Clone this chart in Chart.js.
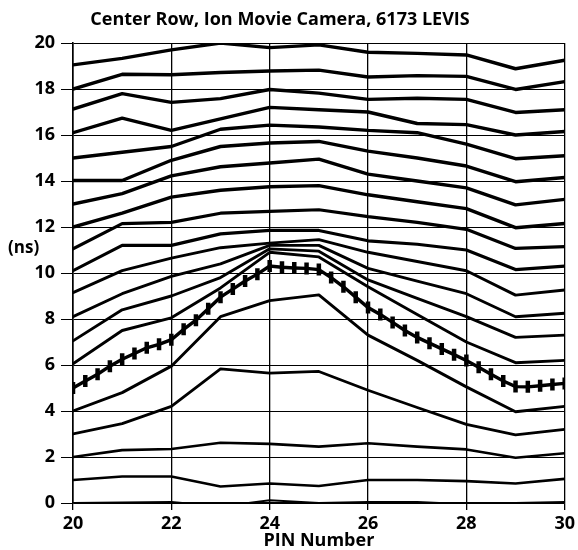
<!DOCTYPE html>
<html><head><meta charset="utf-8">
<script src="https://cdn.jsdelivr.net/npm/chart.js@4/dist/chart.umd.min.js"></script>
<style>html,body{margin:0;padding:0;background:#fff}#wrap{position:relative;width:578px;height:550px;background:#fff}</style>
</head><body><div id="wrap"><canvas id="c" width="578" height="550"></canvas></div>
<script>
const chartTitle = 'Center Row, Ion Movie Camera, 6173 LEVIS';
const yLabel = '(ns)';
const xLabel = 'PIN Number';
const pins = [20, 21, 22, 23, 24, 25, 26, 27, 28, 29, 30];

const line19 = [19.05, 19.33, 19.7, 20.0, 19.8, 19.92, 19.6, 19.55, 19.48, 18.88, 19.25];
const line18 = [18.0, 18.64, 18.62, 18.72, 18.78, 18.82, 18.52, 18.58, 18.55, 17.98, 18.32];
const line17 = [17.13, 17.8, 17.42, 17.58, 17.98, 17.82, 17.55, 17.6, 17.55, 16.98, 17.1];
const line16 = [16.1, 16.73, 16.2, 16.7, 17.2, 17.1, 17.0, 16.5, 16.45, 16.0, 16.15];
const line15 = [15.0, 15.25, 15.5, 16.25, 16.43, 16.35, 16.2, 16.1, 15.6, 14.97, 15.1];
const line14 = [14.02, 14.02, 14.9, 15.5, 15.65, 15.72, 15.3, 15.0, 14.65, 13.97, 14.15];
const line13 = [13.0, 13.45, 14.22, 14.62, 14.78, 14.95, 14.3, 14.0, 13.7, 12.96, 13.2];
const line12 = [12.0, 12.6, 13.3, 13.6, 13.75, 13.8, 13.4, 13.1, 12.8, 11.97, 12.15];
const line11 = [11.05, 12.15, 12.2, 12.6, 12.68, 12.75, 12.45, 12.2, 11.9, 11.07, 11.15];
const line10 = [10.1, 11.2, 11.2, 11.7, 11.85, 11.85, 11.4, 11.25, 11.0, 10.15, 10.3];
const line9  = [9.15, 10.1, 10.65, 11.1, 11.3, 11.45, 10.9, 10.5, 10.1, 9.04, 9.26];
const line8  = [8.1, 9.1, 9.85, 10.4, 11.2, 11.2, 10.2, 9.65, 9.1, 8.1, 8.25];
const line7  = [7.05, 8.4, 9.0, 9.8, 11.05, 10.95, 9.7, 8.9, 8.1, 7.2, 7.3];
const line6  = [6.05, 7.5, 8.05, 9.35, 10.9, 10.7, 9.4, 8.2, 7.0, 6.1, 6.2];
const line4  = [4.0, 4.8, 5.95, 8.1, 8.8, 9.05, 7.3, 6.2, 5.05, 3.97, 4.2];
const line3  = [3.0, 3.45, 4.2, 5.83, 5.65, 5.72, 4.9, 4.15, 3.42, 2.96, 3.2];
const line2  = [2.0, 2.3, 2.35, 2.62, 2.57, 2.45, 2.6, 2.45, 2.33, 1.97, 2.16];
const line1  = [1.0, 1.15, 1.15, 0.72, 0.85, 0.74, 1.0, 1.0, 0.95, 0.85, 1.05];
const line0  = [0.0, 0.03, 0.05, -0.15, 0.12, 0.0, 0.05, 0.05, -0.05, 0.0, 0.05];

const markedPins = [20, 20.25, 20.5, 20.75, 21, 21.25, 21.5, 21.75, 22, 22.25, 22.5, 22.75, 23, 23.25, 23.5, 23.75, 24, 24.25, 24.5, 24.75, 25, 25.25, 25.5, 25.75, 26, 26.25, 26.5, 26.75, 27, 27.25, 27.5, 27.75, 28, 28.25, 28.5, 28.75, 29, 29.25, 29.5, 29.75, 30];
const markedLine = [5.0, 5.3, 5.6, 5.95, 6.25, 6.5, 6.75, 6.9, 7.1, 7.55, 7.95, 8.45, 8.95, 9.3, 9.65, 9.95, 10.3, 10.25, 10.22, 10.2, 10.15, 9.8, 9.4, 8.95, 8.5, 8.2, 7.85, 7.5, 7.2, 6.95, 6.7, 6.45, 6.2, 5.9, 5.6, 5.3, 5.06, 5.05, 5.1, 5.15, 5.2];

const yTicks = [0, 2, 4, 6, 8, 10, 12, 14, 16, 18, 20];
const xTicks = [20, 22, 24, 26, 28, 30];

const plainLines = [
  [line19, 3.4], [line18, 3.4], [line17, 3.4], [line16, 3.4], [line15, 3.4], [line14, 3.4],
  [line13, 3.4], [line12, 3.4], [line11, 3.2], [line10, 3.2], [line9, 2.9], [line8, 2.9],
  [line7, 2.9], [line6, 2.9], [line4, 2.9], [line3, 2.8], [line2, 2.6], [line1, 2.6], [line0, 1.8]
];

const datasets = plainLines.map(([vals, w]) => ({
  data: pins.map((x, i) => ({x: x, y: vals[i]})),
  borderColor: '#000', borderWidth: w, pointRadius: 0, tension: 0, fill: false,
  borderJoinStyle: 'round', borderCapStyle: 'round'
}));
datasets.push({
  data: markedPins.map((x, i) => ({x: x, y: markedLine[i]})),
  borderColor: '#000', borderWidth: 3.4, tension: 0, fill: false,
  pointStyle: 'line', rotation: 90, pointRadius: 6, pointBorderWidth: 4.5,
  pointBorderColor: '#000', pointBackgroundColor: '#000'
});

const FONT = '"Open Sans", "Noto Sans", sans-serif';

const textPlugin = {
  id: 'texts',
  afterDraw(chart) {
    const c = chart.ctx;
    c.save();
    c.fillStyle = '#000';
    c.font = 'bold 18px ' + FONT;
    c.textAlign = 'center';
    c.textBaseline = 'middle';
    c.fillText(chartTitle, 280, 20);
    c.textAlign = 'left';
    c.font = 'bold 17px ' + FONT;
    c.fillText(yLabel, 8, 248);
    c.restore();
  }
};

new Chart(document.getElementById('c'), {
  type: 'line',
  data: {datasets: datasets},
  options: {
    responsive: false, animation: false, events: [],
    layout: {padding: {top: 43, left: 0, right: 13, bottom: 0}},
    plugins: {legend: {display: false}, tooltip: {enabled: false}, title: {display: false}},
    scales: {
      x: {
        type: 'linear', min: 20, max: 30,
        afterBuildTicks(s) { s.ticks = xTicks.map(v => ({value: v})); },
        afterFit(s) { s.height = 47; },
        ticks: {color: '#000', font: {family: FONT, size: 18, weight: 'bold'}, padding: 3, maxRotation: 0},
        grid: {color: '#000', lineWidth: 1.3, tickLength: 7},
        border: {color: '#000', width: 1.6},
        title: {display: true, text: xLabel, color: '#000', font: {family: FONT, size: 18, weight: 'bold', lineHeight: 1}, padding: {top: 0, bottom: 0}}
      },
      y: {
        type: 'linear', min: 0, max: 20,
        afterBuildTicks(s) { s.ticks = yTicks.map(v => ({value: v})); },
        afterFit(s) { s.width = 73; },
        ticks: {color: '#000', font: {family: FONT, size: 18, weight: 'bold'}, padding: 6},
        grid: {color: '#000', lineWidth: 1, tickLength: 12},
        border: {color: '#000', width: 1.6}
      }
    }
  },
  plugins: [textPlugin]
});
</script></body></html>
